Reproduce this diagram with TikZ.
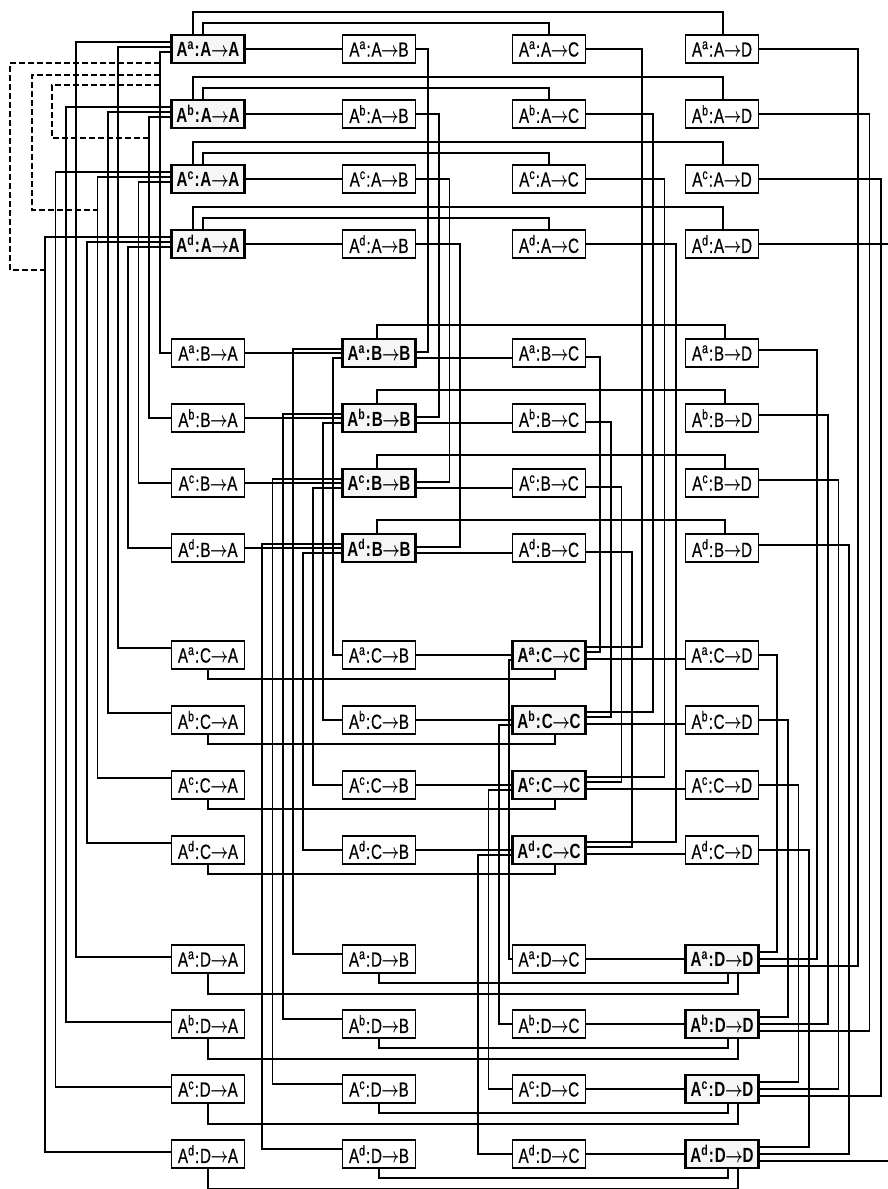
\documentclass[tikz,border=0pt]{standalone}
\usepackage{fontspec}
\setmainfont{Liberation Sans}
\newfontfamily\labfont{Liberation Sans}[FakeBold=0.6]
\usepackage{graphicx}
\usetikzlibrary{calc}
\newcommand\boxlabel[3]{\scalebox{0.74}[1]{A\textsuperscript{#1}\kern1pt:\kern1pt#2\kern-0.5pt$\rightarrow$\kern-0.5pt#3}}
\begin{document}
\begin{tikzpicture}[x=1pt,y=-1pt,
  conn/.style={line width=1.7pt},
  box/.style={draw,line width=1.9pt,fill=white,minimum width=73pt,minimum height=28pt,inner sep=0pt,
    font=\labfont\fontsize{20.5}{22}\selectfont\boldmath},
  diagbox/.style={box,line width=2.5pt,fill=gray!7,font=\fontsize{20.5}{22}\selectfont\bfseries\boldmath},
  dashline/.style={line width=1.6pt,dash pattern=on 6pt off 3pt}]
\useasboundingbox (0,0) rectangle (888,1189);
\clip (0,0) rectangle (888,1189);
% ---------------- nodes
\foreach \s [count=\sn from 0] in {a,b,c,d}{
 \foreach \P [count=\pn from 0] in {A,B,C,D}{
  \foreach \Q [count=\qn from 0] in {A,B,C,D}{
   \pgfmathsetmacro\yy{{49,353,655,959}[\pn]+65*\sn}
   \pgfmathsetmacro\xx{{208,379,549,722}[\qn]}
   \ifnum\pn=\qn
     \node[diagbox] (\s-\P-\Q) at (\xx,\yy) {\boxlabel{\s}{\P}{\Q}};
   \else
     \node[box] (\s-\P-\Q) at (\xx,\yy) {\boxlabel{\s}{\P}{\Q}};
   \fi
  }}}
% ---------------- connectors
\foreach \s [count=\k from 0] in {a,b,c,d}{
 \pgfmathsetmacro\xBA{160-10.7*\k}
 \pgfmathsetmacro\xCA{118-10.3*\k}
 \pgfmathsetmacro\xDA{76-10.3*\k}
 \pgfmathsetmacro\xAB{428+10.7*\k}
 \pgfmathsetmacro\xCB{333-10*\k}
 \pgfmathsetmacro\xDB{293-10.3*\k}
 \pgfmathsetmacro\xAC{642+11.3*\k}
 \pgfmathsetmacro\xBC{600+10.7*\k}
 \pgfmathsetmacro\xDC{509-10.3*\k}
 \pgfmathsetmacro\xAD{858+11.5*\k}
 \pgfmathsetmacro\xBD{817+10.7*\k}
 \pgfmathsetmacro\xCD{777+10.7*\k}
 % group A
 \draw[conn] (\s-A-A.east) -- (\s-A-B.west);
 \draw[conn] ([xshift=-5pt]\s-A-A.north) -- ++(0,-11) -| (\s-A-C.north);
 \draw[conn] ([xshift=-15pt]\s-A-A.north) -- ++(0,-22) -| ([xshift=1pt]\s-A-D.north);
 \draw[conn] ([yshift=-3pt]\s-A-A.west) coordinate (t) -- (t -| \xBA,0) |- (\s-B-A.west);
 \draw[conn] ([yshift=2pt]\s-A-A.west) coordinate (t) -- (t -| \xCA,0) |- ([yshift=7pt]\s-C-A.west);
 \draw[conn] ([yshift=7pt]\s-A-A.west) coordinate (t) -- (t -| \xDA,0) |- ([yshift=2pt]\s-D-A.west);
 % group B
 \draw[conn] (\s-B-A.east) -- (\s-B-B.west);
 \draw[conn] ([yshift=-5pt]\s-B-B.east) -- ([yshift=-5pt]\s-B-C.west);
 \draw[conn] ([xshift=-2pt]\s-B-B.north) -- ++(0,-13) -| ([xshift=3pt]\s-B-D.north);
 \draw[conn] (\s-A-B.east) coordinate (t) -- (t -| \xAB,0) |- ([yshift=1pt]\s-B-B.east);
 \draw[conn] (\s-C-B.west) coordinate (t) -- (t -| \xCB,0) |- ([yshift=-5pt]\s-B-B.west);
 \draw[conn] ([yshift=5pt]\s-D-B.west) coordinate (t) -- (t -| \xDB,0) |- ([yshift=4pt]\s-B-B.west);
 \draw[conn] ([yshift=-4pt]\s-B-C.east) coordinate (t) -- (t -| \xBC,0) |- ([yshift=3pt]\s-C-C.east);
 \draw[conn] ([yshift=3pt]\s-B-D.east) coordinate (t) -- (t -| \xBD,0) |- (\s-D-D.east);
 % group C
 \draw[conn] (\s-C-B.east) -- (\s-C-C.west);
 \draw[conn] ([yshift=-4pt]\s-C-C.east) -- ([yshift=-4pt]\s-C-D.west);
 \draw[conn] (\s-C-A.south) -- ++(0,9) -| ([xshift=6pt]\s-C-C.south);
 \draw[conn] (\s-A-C.east) coordinate (t) -- (t -| \xAC,0) |- ([yshift=8pt]\s-C-C.east);
 \draw[conn] (\s-D-C.west) coordinate (t) -- (t -| \xDC,0) |- ([yshift=-5pt]\s-C-C.west);
 \draw[conn] (\s-C-D.east) coordinate (t) -- (t -| \xCD,0) |- ([yshift=7pt]\s-D-D.east);
 % group D
 \draw[conn] (\s-D-C.east) -- (\s-D-D.west);
 \draw[conn] (\s-D-B.south) -- ++(0,9) -| ([xshift=6pt]\s-D-D.south);
 \draw[conn] (\s-D-A.south) -- ++(0,20) -| ([xshift=16pt]\s-D-D.south);
 \draw[conn] (\s-A-D.east) coordinate (t) -- (t -| \xAD,0) |- ([yshift=-7pt]\s-D-D.east);
}
% ---------------- dashed links
\coordinate (dA1) at (160,85);  \coordinate (dB1) at (149.3,138);
\coordinate (dA2) at (160,75);  \coordinate (dC2) at (97.4,210);
\coordinate (dA3) at (160,63);  \coordinate (dD3) at (45.1,270);
\draw[dashline] (dA1) -| (52,111) |- (dB1);
\draw[dashline] (dA2) -| (32,140) |- (dC2);
\draw[dashline] (dA3) -| (10,160) |- (dD3);
\end{tikzpicture}
\end{document}
